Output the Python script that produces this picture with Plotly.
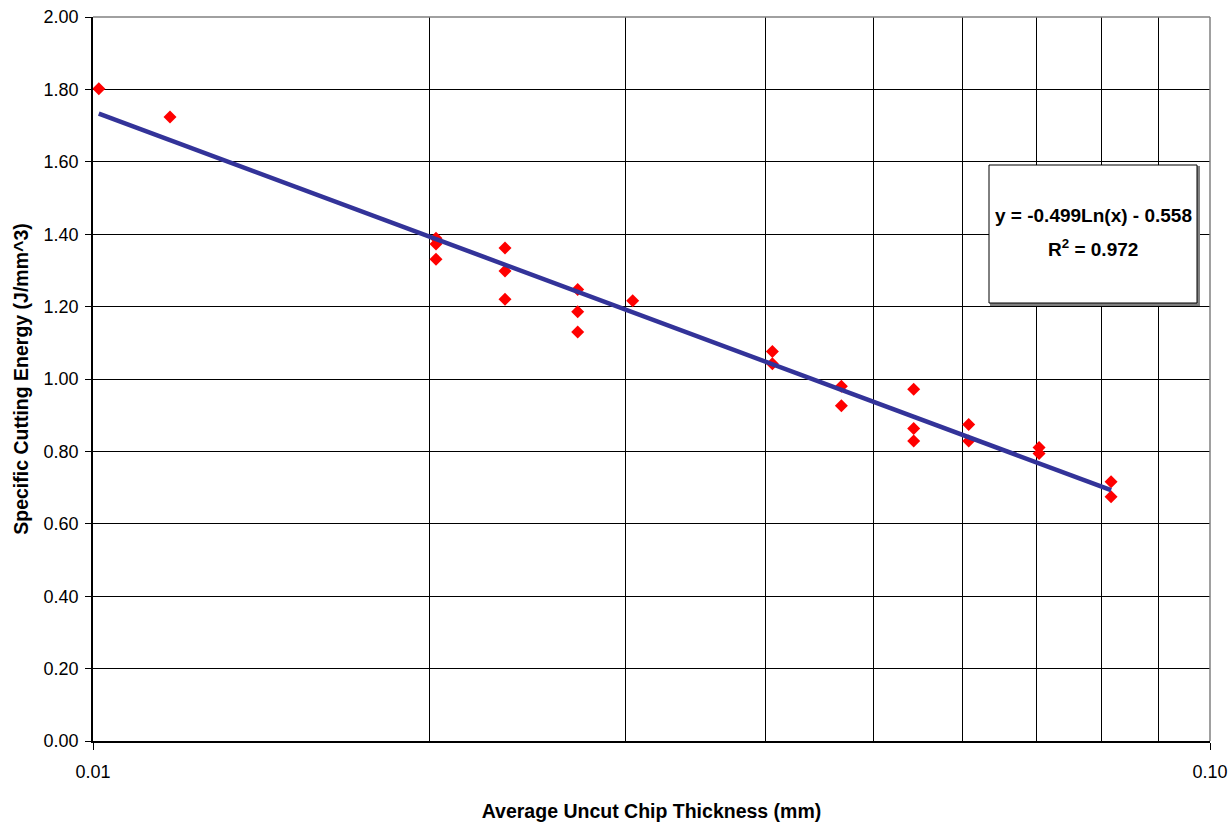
import plotly.graph_objects as go

# Data
chip_thickness = [0.01012, 0.01172,
                  0.02028, 0.02028, 0.02028,
                  0.02338, 0.02338, 0.02338,
                  0.02716, 0.02716, 0.02716,
                  0.03042,
                  0.04057, 0.04057,
                  0.04677, 0.04677,
                  0.05429, 0.05429, 0.05429,
                  0.06081, 0.06081,
                  0.07030, 0.07030,
                  0.08155, 0.08155]
specific_energy = [1.802, 1.724,
                   1.389, 1.373, 1.331,
                   1.362, 1.298, 1.220,
                   1.247, 1.186, 1.130,
                   1.216,
                   1.076, 1.042,
                   0.980, 0.926,
                   0.972, 0.863, 0.829,
                   0.874, 0.829,
                   0.811, 0.794,
                   0.716, 0.675]
trend_x = [0.01012, 0.08155]
trend_y = [1.733, 0.693]

y_ticks = [0.0, 0.2, 0.4, 0.6, 0.8, 1.0, 1.2, 1.4, 1.6, 1.8, 2.0]
x_ticks = [0.01, 0.1]
x_ticktext = ["0.01", "0.10"]
x_minor = [0.02, 0.03, 0.04, 0.05, 0.06, 0.07, 0.08, 0.09]

FONT = "Liberation Sans, Arial, sans-serif"

fig = go.Figure()
fig.add_trace(go.Scatter(
    x=chip_thickness, y=specific_energy, mode="markers",
    marker=dict(symbol="diamond", color="#ff0000", size=10),
    showlegend=False, cliponaxis=False))
fig.add_trace(go.Scatter(
    x=trend_x, y=trend_y, mode="lines",
    line=dict(color="#333399", width=4.5),
    showlegend=False))

fig.update_layout(
    width=1232, height=822,
    margin=dict(l=93, r=22, t=17, b=81),
    plot_bgcolor="white", paper_bgcolor="white",
    font=dict(family=FONT, size=18, color="black"),
    xaxis=dict(
        type="log", range=[-2, -1], automargin=False,
        tickvals=x_ticks, ticktext=x_ticktext,
        ticks="outside", ticklen=7, tickcolor="black",
        ticklabelstandoff=7,
        showgrid=True, gridcolor="black", gridwidth=1,
        minor=dict(tickvals=x_minor, showgrid=True, gridcolor="black",
                   gridwidth=1, ticks=""),
        showline=True, linecolor="black", linewidth=1.5,
        zeroline=False,
        title=dict(text="<b>Average Uncut Chip Thickness (mm)</b>",
                   font=dict(size=19.5), standoff=24),
    ),
    yaxis=dict(
        range=[0, 2.0], automargin=False,
        tickvals=y_ticks, tickformat=".2f",
        ticks="outside", ticklen=6, tickcolor="black",
        ticklabelstandoff=3,
        showgrid=True, gridcolor="black", gridwidth=1,
        showline=True, linecolor="black", linewidth=1.5,
        zeroline=False,
        title=dict(text="<b>Specific Cutting Energy (J/mm^3)</b>",
                   font=dict(size=19.5), standoff=10),
    ),
)

# Plot area border (top and right) in gray
fig.add_shape(type="line", xref="paper", yref="paper", x0=0, x1=1, y0=1, y1=1,
              line=dict(color="#808080", width=1.5), layer="above")
fig.add_shape(type="line", xref="paper", yref="paper", x0=1, x1=1, y0=0, y1=1,
              line=dict(color="#808080", width=1.5), layer="above")

# Trendline equation box (positions in window pixels)
def px_x(p):
    return (p - 93) / 1117

def px_y(p):
    return (741 - p) / 724

fig.add_shape(type="rect", xref="paper", yref="paper",
              x0=px_x(991), x1=px_x(1199), y0=px_y(305), y1=px_y(167),
              line=dict(color="#808080", width=2), fillcolor="#808080", layer="above")
fig.add_shape(type="rect", xref="paper", yref="paper",
              x0=px_x(989), x1=px_x(1197), y0=px_y(303), y1=px_y(165),
              line=dict(color="black", width=1), fillcolor="white", layer="above")
fig.add_annotation(xref="paper", yref="paper", x=px_x(1093), y=px_y(215),
                   text="<b>y = -0.499Ln(x) - 0.558</b>", showarrow=False,
                   font=dict(size=19, family=FONT), xanchor="center", yanchor="middle")
fig.add_annotation(xref="paper", yref="paper", x=px_x(1093), y=px_y(248),
                   text="<b>R<sup>2</sup> = 0.972</b>", showarrow=False,
                   font=dict(size=19, family=FONT), xanchor="center", yanchor="middle")

fig.write_html(
    "out.html",
    config={"displayModeBar": False},
    post_script="document.body.style.margin='0';document.body.style.overflow='hidden';",
)
